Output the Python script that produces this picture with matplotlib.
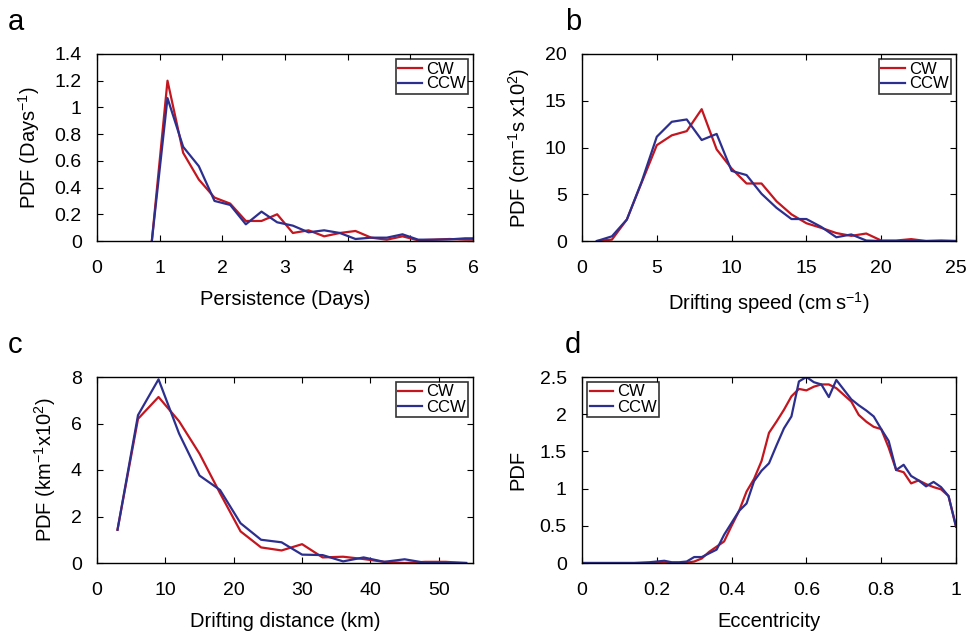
import matplotlib
matplotlib.use('Agg')
import matplotlib.pyplot as plt
import numpy as np

plt.rcParams['font.family'] = ['Liberation Sans', 'DejaVu Sans']
plt.rcParams['mathtext.fontset'] = 'custom'
plt.rcParams['mathtext.rm'] = 'Liberation Sans'
plt.rcParams['mathtext.it'] = 'Liberation Sans'

RED = '#c3161f'
BLUE = '#2d2f8f'

# panel a: persistence (days)
pers_x = [0.875, 1.125, 1.375, 1.625, 1.875, 2.125, 2.375, 2.625, 2.875, 3.125, 3.375,
          3.625, 3.875, 4.125, 4.375, 4.625, 4.875, 5.125, 5.375, 5.625, 5.875, 6.125]
pers_cw = [0, 1.2, 0.66, 0.46, 0.325, 0.28, 0.15, 0.15, 0.2, 0.06, 0.08,
           0.035, 0.06, 0.075, 0.025, 0.01, 0.035, 0.005, 0.01, 0.015, 0.01, 0.01]
pers_ccw = [0, 1.07, 0.705, 0.56, 0.30, 0.27, 0.125, 0.22, 0.14, 0.115, 0.065,
            0.08, 0.06, 0.015, 0.025, 0.025, 0.05, 0.01, 0.01, 0.012, 0.02, 0.02]

# panel b: drifting speed (cm/s)
speed_x = list(range(1, 26))
speed_cw = [0, 0.15, 2.3, 6.3, 10.25, 11.3, 11.75, 14.1, 9.8, 7.75, 6.15, 6.15, 4.25,
            2.85, 1.9, 1.4, 0.85, 0.55, 0.8, 0.05, 0.05, 0.2, 0, 0, 0]
speed_ccw = [0, 0.5, 2.3, 6.4, 11.15, 12.75, 13.0, 10.8, 11.45, 7.5, 7.05, 5.05, 3.55,
             2.35, 2.35, 1.5, 0.4, 0.7, 0.05, 0, 0, 0, 0, 0.05, 0]

# panel c: drifting distance (km)
dist_x = list(range(3, 55, 3))
dist_cw = [1.43, 6.2, 7.14, 6.1, 4.7, 3.0, 1.36, 0.67, 0.54, 0.81, 0.24, 0.27,
           0.17, 0.05, 0, 0.05, 0.05, 0]
dist_ccw = [1.43, 6.36, 7.9, 5.57, 3.76, 3.14, 1.71, 1.0, 0.89, 0.36, 0.34, 0.07,
            0.24, 0.05, 0.16, 0.01, 0.01, 0]

# panel d: eccentricity
ecc_x = [round(0.02 * i, 2) for i in range(51)]
ecc_cw = [0] * 14 + [0.005, 0.02, 0.06, 0.15, 0.22, 0.29, 0.50, 0.70, 0.96, 1.13, 1.37,
                     1.75, 1.90, 2.06, 2.24, 2.34, 2.32, 2.37, 2.40, 2.40, 2.35, 2.26,
                     2.17, 1.99, 1.90, 1.83, 1.80, 1.55, 1.25, 1.22, 1.07, 1.11, 1.06,
                     1.02, 0.99, 0.90, 0.49]
ecc_ccw = [0] * 8 + [0.005, 0.01, 0.02, 0.03, 0.01, 0.01, 0.02, 0.08, 0.08, 0.13, 0.18,
                     0.38, 0.54, 0.70, 0.80, 1.10, 1.24, 1.34, 1.58, 1.81, 1.97, 2.44,
                     2.50, 2.43, 2.40, 2.23, 2.46, 2.33, 2.20, 2.12, 2.05, 1.97, 1.80,
                     1.64, 1.25, 1.32, 1.17, 1.11, 1.03, 1.09, 1.02, 0.90, 0.49]

W, H = 973, 635
fig = plt.figure(figsize=(W / 100, H / 100), dpi=100)


def make_ax(l, r, t, b):
    return fig.add_axes([l / W, 1 - b / H, (r - l) / W, (b - t) / H])


ax_a = make_ax(97, 473, 54, 241)
ax_b = make_ax(582, 956, 54, 241)
ax_c = make_ax(97, 473, 377, 563)
ax_d = make_ax(582, 956, 377, 563)

panels = [
    (ax_a, pers_x, pers_cw, pers_ccw, (0, 6), (0, 1.4), np.arange(0, 7, 1), np.arange(0, 1.41, 0.2),
     'Persistence (Days)', 'PDF (Days$^{-1}$)', 'upper right', 'a'),
    (ax_b, speed_x, speed_cw, speed_ccw, (0, 25), (0, 20), np.arange(0, 26, 5), np.arange(0, 21, 5),
     'Drifting speed (cm\u2009s$^{-1}$)', 'PDF (cm$^{-1}$s x10$^{2}$)', 'upper right', 'b'),
    (ax_c, dist_x, dist_cw, dist_ccw, (0, 55), (0, 8), np.arange(0, 51, 10), np.arange(0, 9, 2),
     'Drifting distance (km)', 'PDF (km$^{-1}$x10$^{2}$)', 'upper right', 'c'),
    (ax_d, ecc_x, ecc_cw, ecc_ccw, (0, 1), (0, 2.5), np.arange(0, 1.01, 0.2), np.arange(0, 2.51, 0.5),
     'Eccentricity', 'PDF', 'upper left', 'd'),
]

for ax, x, cw, ccw, xl, yl, xt, yt, xlab, ylab, loc, letter in panels:
    ax.plot(x, cw, color=RED, lw=1.6, label='CW')
    ax.plot(x, ccw, color=BLUE, lw=1.6, label='CCW')
    ax.set_xlim(*xl)
    ax.set_ylim(*yl)
    ax.set_xticks(xt)
    ax.set_yticks(yt)
    ax.set_xticklabels(['%g' % round(v, 2) for v in xt])
    ax.set_yticklabels(['%g' % round(v, 2) for v in yt])
    ax.tick_params(direction='in', top=True, right=True, labelsize=14, length=4, width=0.8)
    ax.tick_params(axis='x', pad=14)
    ax.tick_params(axis='y', pad=11)
    for s in ax.spines.values():
        s.set_linewidth(1.0)
    ax.set_xlabel(xlab, fontsize=14.5, labelpad=9)
    ax.set_ylabel(ylab, fontsize=14.5, labelpad=9)
    leg = ax.legend(loc=loc, fontsize=12, frameon=True, fancybox=False, borderpad=0.15,
                    handlelength=1.4, handletextpad=0.25, labelspacing=0.0,
                    borderaxespad=0.3)
    leg.get_frame().set_edgecolor('black')
    leg.get_frame().set_linewidth(1.2)

fig.text(8 / W, 1 - 30 / H, 'a', fontsize=21)
fig.text(565 / W, 1 - 30 / H, 'b', fontsize=21)
fig.text(8 / W, 1 - 353 / H, 'c', fontsize=21)
fig.text(565 / W, 1 - 353 / H, 'd', fontsize=21)

fig.savefig('out.png', dpi=100)
